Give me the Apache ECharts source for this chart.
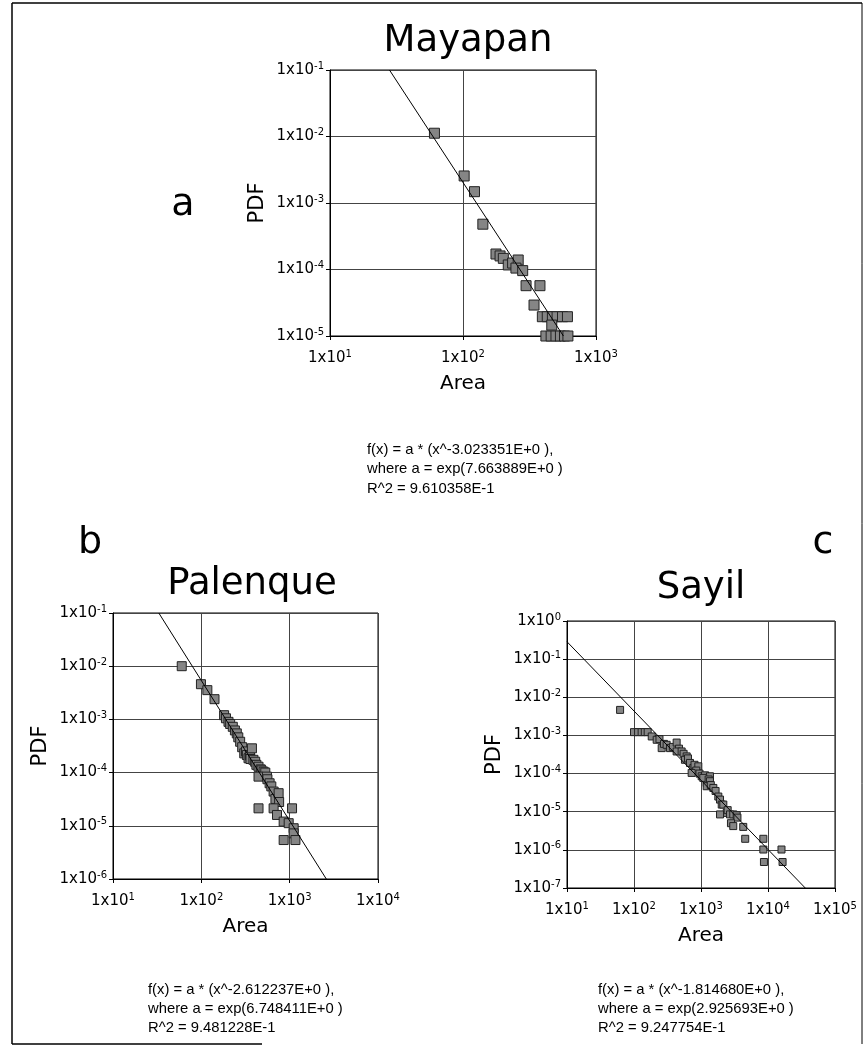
<!DOCTYPE html>
<html>
<head>
<meta charset="utf-8">
<script src="https://cdn.jsdelivr.net/npm/echarts@6/dist/echarts.min.js"></script>
<style>html,body{margin:0;padding:0;background:#fff}#c{width:864px;height:1059px}</style>
</head>
<body>
<div id="c"></div>
<script>
// ---- Mayapan ----
const mayapanArea = [61,102,122,141,177,190,201,219,236,260,250,281,298,379,342,395,430,470,510,560,610,465,420,460,500,540,580,615];
const mayapanPdf  = [0.0112,0.00255,0.00148,0.00048,0.000171,0.00016,0.000147,0.000117,0.000125,0.000139,0.000105,0.0000962,0.0000571,0.0000571,0.0000292,1.95e-5,1.95e-5,1.95e-5,1.95e-5,1.95e-5,1.95e-5,1.46e-5,1.0e-5,1.0e-5,1.0e-5,1.0e-5,1.0e-5,1.0e-5];
const mayapanFitArea = [28,569];
const mayapanFitPdf  = [0.1,1e-5];
// ---- Palenque ----
const palenqueArea = [60,99,117,141,181,190,203,212,227,240,252,262,275,290,306,320,328,342,355,374,360,389,407,420,444,470,480,507,530,444,553,560,593,620,658,690,750,760,444,658,1064,719,855,975,1110,1110,855,1162];
const palenquePdf  = [0.0100,0.00459,0.00355,0.0024,0.0012,0.00105,0.0009,0.00082,0.000726,0.00062,0.000546,0.00046,0.00038,0.0003,0.00023,0.00025,0.000214,0.000186,0.00021,0.000286,0.00018,0.000174,0.00016,0.00014,0.000129,0.000115,0.00011,0.000104,0.0001,8.4e-5,8.4e-5,7.5e-5,6.3e-5,5.5e-5,4.4e-5,3.2e-5,4.1e-5,2.8e-5,2.13e-5,2.13e-5,2.13e-5,1.6e-5,1.2e-5,1.12e-5,9e-6,7.2e-6,5.4e-6,5.4e-6];
const palenqueFitArea = [33,2600];
const palenqueFitPdf  = [0.1,1e-6];
// ---- Sayil ----
const sayilArea = [62,100,115,130,145,160,184,218,240,259,280,307,345,380,433,470,433,514,550,611,576,640,685,768,800,912,850,725,950,1023,1150,1361,1216,1082,1300,1361,1216,1400,1528,1650,1813,1923,2040,2154,2418,2500,1923,2710,3030,3410,3500,2800,3030,4270,4570,8520,8520,15900,8700,16500];
const sayilPdf  = [0.00467,0.00122,0.00122,0.00122,0.00122,0.00122,0.00094,0.00077,0.0008,0.000465,0.0006,0.000568,0.000465,0.0005,0.00065,0.00045,0.00038,0.00038,0.00033,0.000282,0.00023,0.00025,0.00019,0.00014,0.00017,0.000155,0.00012,0.000104,0.0001,8.5e-5,9e-5,8.5e-5,5.7e-5,7.7e-5,7e-5,6.3e-5,4.65e-5,5e-5,4.2e-5,3.5e-5,2.5e-5,2.08e-5,1.54e-5,1.54e-5,9.3e-6,1.1e-5,8.5e-6,8.5e-6,8.5e-6,8.1e-6,7e-6,5e-6,4.2e-6,4.0e-6,1.95e-6,1.95e-6,1.02e-6,1.02e-6,4.8e-7,4.8e-7];
const sayilFitArea = [10,36000];
const sayilFitPdf  = [0.286,1e-7];

const zip = (a,b) => a.map((v,i)=>[v,b[i]]);
const FONT = 'DejaVu Sans';
const supLabel = v => '{b|1x10}{s|' + Math.round(Math.log10(v)) + '}';
const rich = { b:{fontSize:15, fontFamily:FONT, color:'#000', lineHeight:18}, s:{fontSize:10, fontFamily:FONT, color:'#000', verticalAlign:'top', lineHeight:10} };

function xAx(i, min, max){
  return { type:'log', logBase:10, gridIndex:i, min, max, name:'Area', nameLocation:'middle', nameGap:38,
    nameTextStyle:{fontFamily:FONT, fontSize:20, color:'#000'},
    axisLine:{show:true, lineStyle:{color:'#000', width:1}},
    axisTick:{show:true, length:4, lineStyle:{color:'#000'}},
    axisLabel:{formatter:supLabel, rich, margin:13, showMinLabel:true, showMaxLabel:true},
    splitLine:{show:true, lineStyle:{color:'#444', width:1}} };
}
function yAx(i, min, max){
  return { type:'log', logBase:10, gridIndex:i, min, max, name:'PDF', nameLocation:'middle', nameGap:62,
    nameTextStyle:{fontFamily:FONT, fontSize:21, color:'#000'},
    axisLine:{show:true, lineStyle:{color:'#000', width:1}},
    axisTick:{show:true, length:4, lineStyle:{color:'#000'}},
    axisLabel:{formatter:supLabel, rich, margin:6, showMinLabel:true, showMaxLabel:true},
    splitLine:{show:true, lineStyle:{color:'#444', width:1}} };
}
function scat(i, xs, ys, size){
  return { type:'scatter', xAxisIndex:i, yAxisIndex:i, data:zip(xs,ys), symbol:'rect', symbolSize:size, clip:false,
    itemStyle:{color:'#858585', borderColor:'#222', borderWidth:1, opacity:1}, z:3 };
}
function fit(i, xs, ys){
  return { type:'line', xAxisIndex:i, yAxisIndex:i, data:zip(xs,ys), symbol:'none', lineStyle:{color:'#000', width:1}, z:4, silent:true };
}
function txt(x, y, s, size, fam, align){
  return { type:'text', x, y, style:{ text:s, fontSize:size, fontFamily:fam, fill:'#000', align:align||'center', verticalAlign:'middle' } };
}
const FF = 'Liberation Sans';
const FS = 14.8;
const chart = echarts.init(document.getElementById('c'), null, {renderer:'canvas'});
chart.setOption({
  backgroundColor:'#fff',
  animation:false,
  grid:[
    {left:330, top:70, width:266, height:266, show:true, borderColor:'#000', borderWidth:1},
    {left:113, top:613, width:265, height:266, show:true, borderColor:'#000', borderWidth:1},
    {left:567, top:621, width:268, height:267, show:true, borderColor:'#000', borderWidth:1}
  ],
  xAxis:[ xAx(0,10,1000), xAx(1,10,10000), xAx(2,10,100000) ],
  yAxis:[ yAx(0,1e-5,1e-1), yAx(1,1e-6,1e-1), yAx(2,1e-7,1) ],
  series:[
    scat(0, mayapanArea, mayapanPdf, 10), fit(0, mayapanFitArea, mayapanFitPdf),
    scat(1, palenqueArea, palenquePdf, 9), fit(1, palenqueFitArea, palenqueFitPdf),
    scat(2, sayilArea, sayilPdf, 7), fit(2, sayilFitArea, sayilFitPdf)
  ],
  graphic:[
    {type:'line', shape:{x1:12,y1:3,x2:862,y2:3}, style:{stroke:'#000', lineWidth:1.5}},
    {type:'line', shape:{x1:12,y1:3,x2:12,y2:1044}, style:{stroke:'#000', lineWidth:1.5}},
    {type:'line', shape:{x1:862,y1:3,x2:862,y2:1044}, style:{stroke:'#000', lineWidth:1}},
    {type:'line', shape:{x1:12,y1:1044,x2:262,y2:1044}, style:{stroke:'#000', lineWidth:1.5}},
    txt(468, 41, 'Mayapan', 37, FONT),
    txt(252, 584, 'Palenque', 37, FONT),
    txt(701, 588, 'Sayil', 37, FONT),
    txt(183, 205, 'a', 38, FONT),
    txt(90, 543, 'b', 38, FONT),
    txt(823, 543, 'c', 38, FONT),
    txt(367, 450, 'f(x) = a * (x^-3.023351E+0 ),', FS, FF, 'left'),
    txt(367, 469, 'where a = exp(7.663889E+0 )', FS, FF, 'left'),
    txt(367, 489, 'R^2 = 9.610358E-1', FS, FF, 'left'),
    txt(148, 990, 'f(x) = a * (x^-2.612237E+0 ),', FS, FF, 'left'),
    txt(148, 1009, 'where a = exp(6.748411E+0 )', FS, FF, 'left'),
    txt(148, 1028, 'R^2 = 9.481228E-1', FS, FF, 'left'),
    txt(598, 990, 'f(x) = a * (x^-1.814680E+0 ),', FS, FF, 'left'),
    txt(598, 1009, 'where a = exp(2.925693E+0 )', FS, FF, 'left'),
    txt(598, 1028, 'R^2 = 9.247754E-1', FS, FF, 'left')
  ]
});
</script>
</body>
</html>
